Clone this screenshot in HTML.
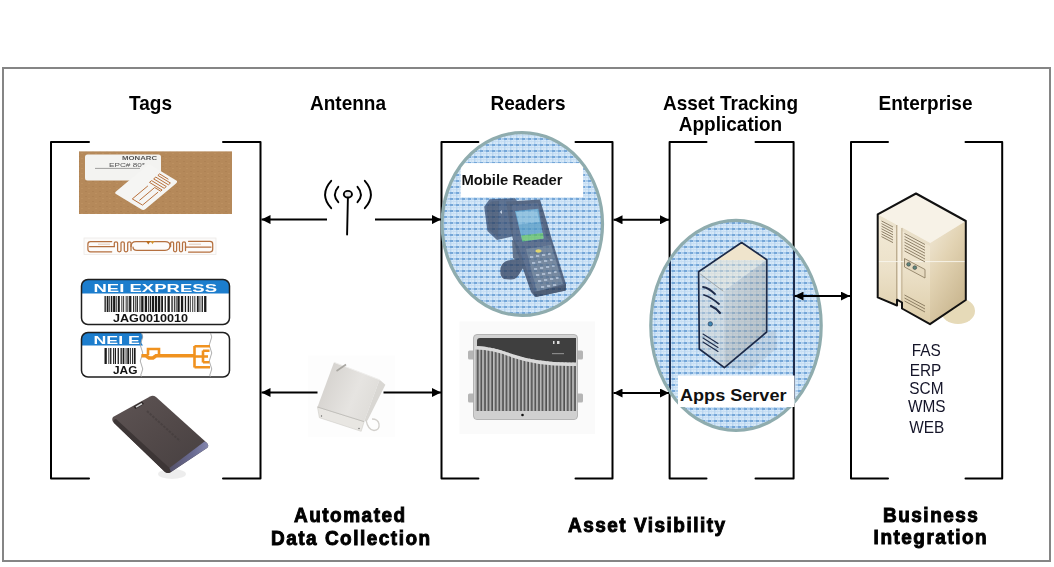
<!DOCTYPE html>
<html><head><meta charset="utf-8"><title>RFID Asset Tracking</title>
<style>
html,body{margin:0;padding:0;background:#fff;width:1054px;height:567px;overflow:hidden}
svg{display:block}
text{font-family:"Liberation Sans",sans-serif}
.h{font-weight:bold;font-size:19px;fill:#000}
.f{font-weight:bold;font-size:19px;fill:#000;letter-spacing:1.5px;stroke:#000;stroke-width:0.9px}
.l{font-size:15.4px;fill:#141428}
.br{fill:none;stroke:#000;stroke-width:2;stroke-linejoin:round;stroke-linecap:round}
.ar{stroke:#000;stroke-width:2}
</style></head>
<body>
<svg width="1054" height="567" viewBox="0 0 1054 567">
<defs>
  <pattern id="grid" width="6" height="6" patternUnits="userSpaceOnUse">
    <rect width="6" height="6" fill="#d8eaf9"/>
    <rect x="0" y="0.3" width="6" height="1.3" fill="#8fbbe6"/>
    <rect x="0.3" y="0" width="1" height="6" fill="#abcdee"/>
    <rect x="0" y="3.4" width="6" height="0.7" fill="#bcd6f0"/>
    <rect x="3.4" y="0" width="0.6" height="6" fill="#c6ddf3"/>
    <rect x="0" y="0.3" width="3" height="1.4" fill="#5f97cf"/>
  </pattern>
  <pattern id="card" width="7" height="5" patternUnits="userSpaceOnUse">
    <rect width="7" height="5" fill="#b5895a"/>
    <rect x="1" y="1" width="2" height="1" fill="#a67b4e"/>
    <rect x="4" y="3" width="2" height="1" fill="#c29767"/>
  </pattern>
  <pattern id="fins" width="3.6" height="10" patternUnits="userSpaceOnUse" x="475">
    <rect width="3.6" height="10" fill="#505050"/>
    <rect x="0" width="1.7" height="10" fill="#bdbdbd"/>
    <rect x="1.7" width="0.5" height="10" fill="#808080"/>
  </pattern>
  <linearGradient id="srvR" x1="0" y1="0" x2="1" y2="1">
    <stop offset="0" stop-color="#d4d2ca"/><stop offset="0.4" stop-color="#b3b1aa"/><stop offset="1" stop-color="#8f8e88"/>
  </linearGradient>
  <linearGradient id="srvL" x1="0" y1="0" x2="0" y2="1">
    <stop offset="0" stop-color="#dfdfda"/><stop offset="1" stop-color="#c9c9c3"/>
  </linearGradient>
  <linearGradient id="entL" x1="0" y1="0" x2="0" y2="1">
    <stop offset="0" stop-color="#f3ebd9"/><stop offset="0.5" stop-color="#ece1c9"/><stop offset="1" stop-color="#ddcda9"/>
  </linearGradient>
  <linearGradient id="entR" x1="0" y1="0" x2="0.6" y2="1">
    <stop offset="0" stop-color="#f1e9d8"/><stop offset="0.45" stop-color="#e2d3b3"/><stop offset="1" stop-color="#c9b68f"/>
  </linearGradient>
  <linearGradient id="antF" x1="0" y1="0.3" x2="1" y2="0.7">
    <stop offset="0" stop-color="#d3d0cc"/><stop offset="0.6" stop-color="#e6e4e1"/><stop offset="1" stop-color="#dddbd7"/>
  </linearGradient>
  <linearGradient id="fobG" x1="0" y1="0" x2="1" y2="1">
    <stop offset="0" stop-color="#5e5454"/><stop offset="0.5" stop-color="#524949"/><stop offset="1" stop-color="#463f40"/>
  </linearGradient>
  <linearGradient id="fobB" x1="0" y1="0" x2="1" y2="0">
    <stop offset="0" stop-color="#55526a"/><stop offset="0.6" stop-color="#6a6b92"/><stop offset="1" stop-color="#8486ad"/>
  </linearGradient>
  <marker id="ah" viewBox="0 0 10 10" refX="10" refY="5" markerWidth="9" markerHeight="9" markerUnits="userSpaceOnUse" orient="auto-start-reverse">
    <path d="M0,0 L10,5 L0,10 z" fill="#000"/>
  </marker>
</defs>

<!-- outer frame -->
<rect x="3" y="68" width="1047" height="493" fill="none" stroke="#858585" stroke-width="2"/>

<!-- headers -->
<text class="h" transform="translate(150.5,109.5) scale(1,1.09)" text-anchor="middle">Tags</text>
<text class="h" transform="translate(348,109.5) scale(1,1.09)" text-anchor="middle">Antenna</text>
<text class="h" transform="translate(528,109.5) scale(1,1.09)" text-anchor="middle">Readers</text>
<text class="h" transform="translate(730.5,109.8) scale(1,1.09)" text-anchor="middle">Asset Tracking</text>
<text class="h" transform="translate(730.5,131.4) scale(1,1.09)" text-anchor="middle">Application</text>
<text class="h" transform="translate(925.5,109.5) scale(1,1.09)" text-anchor="middle">Enterprise</text>

<!-- brackets -->
<path class="br" d="M89,142 H51 V478.5 H89 M223,142 H260.5 V478.5 H223"/>
<path class="br" d="M478.4,142 H441.5 V478.5 H478.4 M575.5,142 H612.5 V478.5 H575.5"/>
<path class="br" d="M706.5,142 H669.6 V478.5 H706.5 M755.5,142 H793.6 V478.5 H755.5"/>
<path class="br" d="M888,142 H851 V478.5 H888 M965.5,142 H1002.2 V478.5 H965.5"/>

<!-- ===== TAGS ===== -->
<!-- tag 1: cardboard with labels -->
<g>
  <rect x="79" y="151.5" width="153" height="62.5" fill="#b5895a"/>
  <rect x="79" y="151.5" width="153" height="62.5" fill="url(#card)" opacity="0.5"/>
  <rect x="85" y="154.5" width="76" height="26" rx="2.5" fill="#f3f3f1"/>
  <text x="122" y="159.6" font-size="5.5" font-weight="bold" fill="#555" textLength="35" lengthAdjust="spacingAndGlyphs">MONARC</text>
  <text x="109" y="167.3" font-size="5.5" fill="#555" textLength="36" lengthAdjust="spacingAndGlyphs">EPC#  80*</text>
  <line x1="95" y1="168.4" x2="140" y2="168.4" stroke="#888" stroke-width="0.8"/>
  <path d="M116.3,191.2 Q114.2,192.9 116.0,194.0 L141.6,209.6 Q143.4,210.7 145.5,209.0 L176.0,183.4 Q178.1,181.7 176.3,180.6 L150.7,165.0 Q148.9,163.9 146.8,165.6 z" fill="#f5f5f3"/>
  <g fill="none" stroke="#b9713c" stroke-width="1" stroke-linejoin="round">
    <path d="M147.9,185.9 L132.3,198.9 L142.5,205.1 L158.1,192.1"/>
    <path d="M139.5,200.3 L154.7,187.5"/>
    <path d="M154.7,187.5 L160.7,191.2 L162.1,190.0 L149.5,182.4 L151.6,180.6 L164.2,188.3 L166.3,186.5 L153.7,178.9 L155.8,177.1 L168.4,184.8 L170.4,183.0 L157.9,175.4 L159.6,173.9 L168.4,179.3"/>
  </g>
</g>
<!-- tag 2: inlay strip -->
<g>
  <rect x="84" y="238" width="132" height="16.5" fill="#fcfbfa"/>
  <rect x="84" y="238" width="132" height="16.5" fill="none" stroke="#ece9e6" stroke-width="0.8"/>
  <g fill="none" stroke="#b5703f" stroke-width="1.25" stroke-linejoin="round" stroke-linecap="round">
    <path d="M111.7,241.5 H90.5 Q87.9,241.5 87.9,244 V249.3 Q87.9,251.8 90.5,251.8 H111.7"/>
    <path d="M89.5,246.6 H114.3"/>
    <path d="M114.3,246.6 L114.3,243.0 Q114.3,241.8 116.0,241.8 Q117.6,241.8 117.6,243.0 L117.6,250.6 Q117.6,251.8 119.3,251.8 Q121.0,251.8 121.0,250.6 L121.0,243.0 Q121.0,241.8 122.7,241.8 Q124.3,241.8 124.3,243.0 L124.3,250.6 Q124.3,251.8 126.0,251.8 Q127.7,251.8 127.7,250.6 L127.7,243.0 Q127.7,241.8 129.3,241.8 Q131.0,241.8 131.0,243.0 L131.0,250.6"/>
    <path d="M131,246.6 Q131,241.5 136,241.5 H165 Q170,241.5 170,245.5 Q170,250.3 165,250.3 H137 Q133,250.3 133,247"/>
    <path d="M170.6,246.6 L170.6,243.0 Q170.6,241.8 172.1,241.8 Q173.6,241.8 173.6,243.0 L173.6,250.6 Q173.6,251.8 175.1,251.8 Q176.6,251.8 176.6,250.6 L176.6,243.0 Q176.6,241.8 178.1,241.8 Q179.5,241.8 179.5,243.0 L179.5,250.6 Q179.5,251.8 181.0,251.8 Q182.5,251.8 182.5,250.6 L182.5,243.0 Q182.5,241.8 184.0,241.8 Q185.5,241.8 185.5,243.0 L185.5,250.6"/>
    <path d="M188.5,241.3 H210 Q212.7,241.3 212.7,244 V249.3 Q212.7,252 210,252 H188.5"/>
    <path d="M185.5,247 H211"/>
  </g>
  <path d="M146,241 L150.5,241 L148.3,244.6 z" fill="#b86a1a"/><path d="M150.5,241 L154.5,241 L152.5,244.2 z" fill="#d0922e"/>
  <line x1="98" y1="244.2" x2="110" y2="244.2" stroke="#cfa98c" stroke-width="0.6"/>
  <line x1="189" y1="244.2" x2="201" y2="244.2" stroke="#cfa98c" stroke-width="0.6"/>
</g>
<!-- tag 3: NEI EXPRESS -->
<g>
  <clipPath id="c3"><rect x="81.5" y="279.5" width="148" height="45" rx="6.5"/></clipPath>
  <rect x="81.5" y="279.5" width="148" height="45" rx="6.5" fill="#fff"/>
  <rect x="81.5" y="279.5" width="148" height="14" fill="#1c7dcd" clip-path="url(#c3)"/>
  <rect x="81.5" y="279.5" width="148" height="45" rx="6.5" fill="none" stroke="#1e1e1e" stroke-width="1.5"/>
  <text x="93.5" y="291.5" font-size="10" font-weight="bold" fill="#fff" textLength="123.5" lengthAdjust="spacingAndGlyphs">NEI EXPRESS</text>
  <g fill="#1a1a1a"><rect x="104.5" y="296" width="1.3" height="16"/><rect x="106.7" y="296" width="1.8" height="16"/><rect x="109.3" y="296" width="0.9" height="16"/><rect x="111.0" y="296" width="1.3" height="16"/><rect x="113.1" y="296" width="2.3" height="16"/><rect x="116.3" y="296" width="0.9" height="16"/><rect x="118.0" y="296" width="1.8" height="16"/><rect x="121.4" y="296" width="0.9" height="16"/><rect x="123.2" y="296" width="0.9" height="16"/><rect x="125.7" y="296" width="0.9" height="16"/><rect x="127.4" y="296" width="0.9" height="16"/><rect x="129.1" y="296" width="2.3" height="16"/><rect x="133.0" y="296" width="0.9" height="16"/><rect x="134.8" y="296" width="0.9" height="16"/><rect x="136.6" y="296" width="1.3" height="16"/><rect x="139.5" y="296" width="0.9" height="16"/><rect x="141.2" y="296" width="2.3" height="16"/><rect x="144.7" y="296" width="2.3" height="16"/><rect x="147.9" y="296" width="0.9" height="16"/><rect x="149.7" y="296" width="1.3" height="16"/><rect x="151.8" y="296" width="2.3" height="16"/><rect x="154.9" y="296" width="2.3" height="16"/><rect x="158.0" y="296" width="2.3" height="16"/><rect x="161.2" y="296" width="1.8" height="16"/><rect x="164.6" y="296" width="1.3" height="16"/><rect x="167.5" y="296" width="2.3" height="16"/><rect x="171.4" y="296" width="1.3" height="16"/><rect x="173.9" y="296" width="0.9" height="16"/><rect x="175.7" y="296" width="0.9" height="16"/><rect x="177.4" y="296" width="2.3" height="16"/><rect x="180.9" y="296" width="2.3" height="16"/><rect x="184.8" y="296" width="1.3" height="16"/><rect x="187.7" y="296" width="1.3" height="16"/><rect x="189.8" y="296" width="0.9" height="16"/><rect x="192.3" y="296" width="0.9" height="16"/><rect x="194.4" y="296" width="0.9" height="16"/><rect x="196.9" y="296" width="1.8" height="16"/><rect x="199.5" y="296" width="0.9" height="16"/><rect x="201.6" y="296" width="1.3" height="16"/><rect x="204.1" y="296" width="2.3" height="16"/></g>
  <text x="113" y="321.8" font-size="11" font-weight="bold" fill="#111" textLength="75" lengthAdjust="spacingAndGlyphs">JAG0010010</text>
</g>
<!-- tag 4: NEI E -->
<g>
  <clipPath id="c4"><rect x="81.5" y="332.5" width="148" height="44.5" rx="6.5"/></clipPath>
  <rect x="81.5" y="332.5" width="148" height="44.5" rx="6.5" fill="#fff"/>
  <path d="M81.5,332.5 H141 Q144,336 142,339 Q140,342 143,345.5 H81.5 z" fill="#1c7dcd" clip-path="url(#c4)"/>
  <rect x="81.5" y="332.5" width="148" height="44.5" rx="6.5" fill="none" stroke="#1e1e1e" stroke-width="1.5"/>
  <text x="93.5" y="344" font-size="10" font-weight="bold" fill="#fff" textLength="46.5" lengthAdjust="spacingAndGlyphs">NEI E</text>
  <g fill="#1a1a1a"><rect x="104.5" y="348" width="2.3" height="16"/><rect x="108.4" y="348" width="0.9" height="16"/><rect x="110.1" y="348" width="1.3" height="16"/><rect x="113.0" y="348" width="0.9" height="16"/><rect x="114.7" y="348" width="1.3" height="16"/><rect x="117.6" y="348" width="1.3" height="16"/><rect x="120.5" y="348" width="1.3" height="16"/><rect x="122.6" y="348" width="1.8" height="16"/><rect x="125.6" y="348" width="0.9" height="16"/><rect x="127.3" y="348" width="1.8" height="16"/><rect x="129.9" y="348" width="0.9" height="16"/><rect x="132.0" y="348" width="0.9" height="16"/><rect x="133.8" y="348" width="1.8" height="16"/></g>
  <text x="113" y="373.5" font-size="11" font-weight="bold" fill="#111" textLength="24.5" lengthAdjust="spacingAndGlyphs">JAG</text>
  <path d="M141.5,333 Q144,337 141.5,341 Q139,345 141.5,349 Q144,353 141.5,357 Q139,361 141.5,365 Q144,369 141.5,373 Q140,375 141.5,377" fill="none" stroke="#999" stroke-width="0.8"/>
  <path d="M210.5,333 Q213,337 210.5,341 Q208,345 210.5,349 Q213,353 210.5,357 Q208,361 210.5,365 Q213,369 210.5,373 Q209,375 210.5,377" fill="none" stroke="#999" stroke-width="0.8"/>
  <g fill="none" stroke="#f0921f" stroke-width="2.6" stroke-linejoin="miter">
    <path d="M141.5,355.8 H146 L149,358 H153 L156,355.8 H194" stroke-width="3.6"/>
    <path d="M148,355 V349 H159 V355"/>
    <path d="M194.5,346 V367.5 M194.5,346.3 H210 M194.5,367.2 H210 M194.5,356.5 H203 M203,350.5 V362.5 M203,350.8 H209.5 M203,362.2 H209.5 M203,356.5 H208"/>
  </g>
</g>
<!-- tag 5: black fob -->
<g>
  <ellipse cx="172" cy="474" rx="14" ry="5" fill="#000" opacity="0.07"/>
  <path d="M113,417 L150,396.5 Q153,395 156,397 L207,443 Q209.5,446 207,448 L171,472 Q168,474 165,472 L114,423 Q111,420 113,417 z" fill="url(#fobG)"/>
  <path d="M114,423 L165,472 Q168,474 171,472 L169.5,468 L116,419 Q112.5,419.5 114,423 z" fill="#3d3636"/>
  <path d="M169.5,468 L171,472 L207,448 Q209.5,446 207,443 L204.5,441.5 z" fill="url(#fobB)"/>
  <path d="M133.5,406.5 L142,401.5 L144,404 L135.5,409 z" fill="#2e2828"/>
  <path d="M135.5,406.5 L141.5,403 L142.5,404.2 L136.5,407.7 z" fill="#d9d9d9"/>
  <path d="M147,411 L180,441" stroke="#3f3838" stroke-width="2" opacity="0.5" stroke-dasharray="2.5 1.2"/>
</g>

<!-- ===== ANTENNA ===== -->
<g fill="none" stroke="#000" stroke-width="1.9" stroke-linecap="round">
  <ellipse cx="347.9" cy="194.2" rx="4.1" ry="3.3" fill="#e6e6e6"/>
  <path d="M347.9,197.6 L347.1,234.5"/>
  <path d="M338.3,186.8 Q331.5,194.5 338.3,202.2"/>
  <path d="M357.5,186.8 Q364.3,194.5 357.5,202.2"/>
  <path d="M331.2,180.8 Q319,194.5 331.2,208.2"/>
  <path d="M364.8,180.8 Q377,194.5 364.8,208.2"/>
</g>
<!-- antenna panel -->
<g>
  <rect x="308" y="355.5" width="87" height="81.5" fill="#f8f8f8" opacity="0.35"/>
  <path d="M317.5,407 L364.1,421.6 L361.2,431.3 L319.4,417.7 z" fill="#e8e6e2" stroke="#cfcdc8" stroke-width="0.6"/>
  <path d="M334,362.3 L379.6,379.8 L364.1,421.6 L317.5,407 z" fill="url(#antF)"/>
  <path d="M379.6,379.8 L385.4,384.7 L367.5,420.5 L364.1,421.6 z" fill="#d9d7d3"/>
  <path d="M334,362.3 L379.6,379.8" stroke="#efeeec" stroke-width="1"/>
  <path d="M317.5,407 L364.1,421.6" stroke="#b9b7b2" stroke-width="0.8"/>
  <path d="M336.5,371 L346,364.5" stroke="#a9a7a2" stroke-width="1.6"/>
  <path d="M366,420 Q368,430 374,430.5 Q380,430 379,424 Q378,419 372,419" fill="none" stroke="#d2d0cc" stroke-width="1.3"/>
  <circle cx="321.5" cy="416" r="0.7" fill="#666"/><circle cx="359" cy="428.5" r="0.7" fill="#666"/>
</g>

<!-- ===== READERS ===== -->
<g>
  <clipPath id="e1"><ellipse cx="522.3" cy="224" rx="80.2" ry="91.4"/></clipPath>
  <ellipse cx="522.3" cy="224" rx="80.2" ry="91.4" fill="url(#grid)"/>
  <rect x="460.8" y="163.2" width="122.3" height="34" fill="#fff"/>
  <!-- mobile reader device -->
  <g>
    <!-- handle -->
    <path d="M512,240 L526,248 L527,260 L520,262 L513,258 z" fill="#3e4c66"/>
    <path d="M500.5,268 Q502,262 508,260.5 L521,258 Q526,259 525,265 L518,276 Q515,280 510,279.5 L504,279 Q499.5,277 500.5,268 z" fill="#2a3957"/>
    <!-- scanner head -->
    <path d="M484.2,206.7 L489.5,199.2 L515,198.2 L517,201 L514,236 L497,240 L487.4,231 z" fill="#34486b"/>
    <path d="M486.5,207 L491,201.5 L499,201 L498,237.5 L489,230 z" fill="#2a3a58"/>
    <path d="M500,212 L501.5,210 L502,214 z" fill="#e8eef5"/>
    <!-- body -->
    <path d="M506,201.5 L540,199.5 L548,226 L552,240 L566,284 L565.7,290.5 L535,297 L531,292 L513,240 L510,226 z" fill="#2d3c5a"/>
    <path d="M512,205 L538,203 L546,237 L551,242 L563,283 L535,292 L518,246 L513,238 z" fill="#36486a"/>
    <!-- screen -->
    <path d="M515,210.9 L538.3,208.8 L543.6,238.4 L522.4,241.6 z" fill="#4f97c2"/>
    <path d="M516,212 L537,210 L539.5,222 L519,224.5 z" fill="#7fb8d8"/>
    <path d="M521.2,235.5 L543,233 L543.6,238.4 L522.4,241.6 z" fill="#5cbf5a"/>
    <!-- keypad -->
    <path d="M526,249 L551,245 L563,284 L537,292 z" fill="#56677f"/>
    <g fill="#9eabc0">
      <rect x="530" y="256" width="3.2" height="2"/><rect x="536" y="255" width="3.2" height="2"/><rect x="542" y="254" width="3.2" height="2"/><rect x="548" y="253" width="2.6" height="2"/>
      <rect x="532" y="262" width="3.2" height="2"/><rect x="538" y="261" width="3.2" height="2"/><rect x="544" y="260" width="3.2" height="2"/><rect x="550" y="259" width="2.6" height="2"/>
      <rect x="534" y="268" width="3.2" height="2"/><rect x="540" y="267" width="3.2" height="2"/><rect x="546" y="266" width="3.2" height="2"/><rect x="552" y="265" width="2.6" height="2"/>
      <rect x="536" y="274" width="3.2" height="2"/><rect x="542" y="273" width="3.2" height="2"/><rect x="548" y="272" width="3.2" height="2"/><rect x="554" y="271" width="2.6" height="2"/>
      <rect x="538" y="280" width="3.2" height="2"/><rect x="544" y="279" width="3.2" height="2"/><rect x="550" y="278" width="3.2" height="2"/><rect x="556" y="277" width="2.6" height="2"/>
      <rect x="541" y="286" width="3.2" height="2"/><rect x="547" y="285" width="3.2" height="2"/><rect x="553" y="284" width="3.2" height="2"/>
    </g>
    <ellipse cx="538.5" cy="251" rx="3" ry="1.7" fill="#e6cf3c"/>
    <path d="M533,292 L536,297 L565.7,290.5 L566,284 L562,286 z" fill="#1f2c45"/>
  </g>
  <ellipse cx="522.3" cy="224" rx="80.2" ry="91.4" fill="url(#grid)" opacity="0.28" clip-path="url(#e1)"/>
  <rect x="460.8" y="163.2" width="122.3" height="34" fill="#fff"/>
  <ellipse cx="522.3" cy="224" rx="80.2" ry="91.4" fill="none" stroke="#8facae" stroke-width="3.2"/>
  <text x="461.5" y="185" font-size="14.5" font-weight="bold" fill="#111" textLength="101" lengthAdjust="spacingAndGlyphs">Mobile Reader</text>
</g>
<!-- fixed reader -->
<g>
  <rect x="459.5" y="321.5" width="135.5" height="112.5" fill="#f6f6f6" opacity="0.6"/>
  <rect x="468" y="350.5" width="7" height="9" rx="1.5" fill="#b5b5b5"/><rect x="468" y="393.5" width="7" height="9" rx="1.5" fill="#b5b5b5"/>
  <rect x="576" y="350.5" width="7" height="9" rx="1.5" fill="#b5b5b5"/><rect x="576" y="393.5" width="7" height="9" rx="1.5" fill="#b5b5b5"/>
  <rect x="473.5" y="334.5" width="104" height="85" rx="3.5" fill="#d2d2d2" stroke="#a8a8a8" stroke-width="0.8"/>
  <rect x="475" y="347" width="101" height="64" fill="#8f8f8f"/>
  <rect x="475" y="347" width="101" height="64" fill="url(#fins)"/>
  <path d="M480,338 H576 V362.5 Q540,363.5 512,354 Q495,347 477,346 V341 Q477,338 480,338 z" fill="#3f3f3f"/>
  <path d="M475,346 Q495,347 512,354 Q540,363.5 576,362.5 V366 Q540,367 512,357.5 Q495,350 475,349.5 z" fill="#dadada"/>
  <rect x="475" y="411" width="101" height="7.5" fill="#d0d0d0"/>
  <circle cx="522.5" cy="415" r="1.3" fill="#111"/>
  <rect x="553" y="341" width="1.5" height="3" fill="#ddd"/><rect x="557" y="341" width="2.5" height="3" fill="#ddd"/>
  <rect x="552" y="353" width="12" height="1.2" fill="#888"/>
</g>

<!-- ===== APPS SERVER ===== -->
<g>
  <clipPath id="e2"><ellipse cx="736" cy="325.4" rx="85.2" ry="105"/></clipPath>
  <ellipse cx="736" cy="325.4" rx="85.2" ry="105" fill="url(#grid)"/>
  <!-- shadow -->
  <path d="M724.4,367.6 L766.7,332 L776,330 L777,348 L750,371 z" fill="#8f979e" opacity="0.45"/>
  <!-- server tower -->
  <path d="M741.6,242.5 L766.8,259.7 L724,291 L698.6,271.7 z" fill="#efe4cc"/>
  <path d="M698.6,271.7 L724,291 L724.4,367.6 L699.3,349 z" fill="url(#srvL)"/>
  <path d="M724,291 L766.8,259.7 L766.7,332 L724.4,367.6 z" fill="url(#srvR)"/>
  <g clip-path="url(#e2)">
    <rect x="640" y="260" width="200" height="180" fill="url(#grid)" opacity="0.55" style="mix-blend-mode:multiply"/>
  </g>
  <path d="M741.6,242.5 L766.8,259.7 L766.7,332 L724.4,367.6 L699.3,349 L698.6,271.7 z" stroke="#1c2a48" stroke-width="1.7" fill="none" stroke-linejoin="round"/>
  <g stroke="#1f2c4a" fill="none" stroke-linecap="round">
    <path d="M703,287 Q709,288 715,294" stroke-width="1.8"/>
    <path d="M704,295 Q711,297 719,304" stroke-width="1.8"/>
    <path d="M711,306 Q716,308 720,313" stroke-width="2.2"/>
    <path d="M703,334 L718,343.5 M703,338 L718,347.5 M703,342 L718,351.5" stroke-width="1.1"/>
  </g>
  <circle cx="710.3" cy="323.9" r="2.2" fill="#3f86b3" stroke="#22304d" stroke-width="0.6"/>
  <path d="M700.3,274 L723.3,291.2" stroke="#8f8f8a" stroke-width="0.7"/>
  <!-- bracket lines seen through ellipse -->
  <g clip-path="url(#e2)" stroke="#1d2c4c" stroke-width="2">
    <line x1="670" y1="200" x2="670" y2="440"/>
    <line x1="794" y1="200" x2="794" y2="440"/>
  </g>
  <ellipse cx="736" cy="325.4" rx="85.2" ry="105" fill="none" stroke="#8facae" stroke-width="3.2"/>
  <rect x="678" y="375.5" width="116.5" height="31.5" fill="#fff"/>
  <text x="680" y="400.8" font-size="17" font-weight="bold" fill="#111" textLength="106.5" lengthAdjust="spacingAndGlyphs">Apps Server</text>
</g>

<!-- ===== ENTERPRISE SERVER ===== -->
<g>
  <ellipse cx="958" cy="311" rx="17" ry="13" fill="#e6dab8"/>
  <!-- top face -->
  <path d="M916,193.5 L965.8,221 L930,243 L877.7,214.4 z" fill="#f7f2e7"/>
  <!-- left/front face -->
  <path d="M877.7,214.4 L930,243 L930,324.2 L902,308.5 L902,302.5 L897,299.7 L897,305.5 L877.7,297.4 z" fill="url(#entL)"/>
  <!-- right face -->
  <path d="M930,243 L965.8,221 L965.8,300 L930,324.2 z" fill="url(#entR)"/>
  <!-- cabinet tops -->
  <path d="M877.7,214.4 L896,224.5 L897,226 L897,229 L878,218.5 z" fill="#ebe2cd"/>
  <path d="M902,227.5 L930,243 L930,246 L902,231 z" fill="#e9dfc8"/>
  <!-- groove -->
  <path d="M896.8,225 L896.8,305" stroke="#a8977a" stroke-width="1" fill="none"/>
  <path d="M899.3,226 L899.3,306" stroke="#f7f0e2" stroke-width="3" fill="none"/>
  <path d="M901.9,228 L901.9,308" stroke="#b3a283" stroke-width="0.8" fill="none"/>
  <!-- reflection -->
  <path d="M877.7,261.6 L965.8,261.6" stroke="#faf6ee" stroke-width="1" fill="none" opacity="0.9"/>
  <g stroke="#75664c" stroke-width="0.8" fill="none">
    <path d="M881.5,221 L893,227 M881.5,223.6 L893,229.6 M881.5,226.2 L893,232.2 M881.5,228.8 L893,234.8 M881.5,231.4 L893,237.4 M881.5,234 L893,240 M881.5,236.6 L893,242.6"/>
    <path d="M904.5,233.5 L925,244.5 M904.5,236.4 L925,247.4 M904.5,239.3 L925,250.3 M904.5,242.2 L925,253.2 M904.5,245.1 L925,256.1 M904.5,248 L925,259 M904.5,250.9 L925,261.9"/>
    <path d="M904.5,295 L925,306 M904.5,298 L925,309 M904.5,301 L925,312"/>
  </g>
  <path d="M904.5,258.5 L925,269.5 L925,278 L904.5,267 z" fill="#e6dac0" stroke="#85765a" stroke-width="0.8"/>
  <circle cx="908.6" cy="264.3" r="1.9" fill="#5f857c" stroke="#333" stroke-width="0.5"/>
  <circle cx="914.8" cy="267.6" r="1.9" fill="#5f857c" stroke="#333" stroke-width="0.5"/>
  <!-- outline -->
  <path d="M916,193.5 L965.8,221 L965.8,300 L930,324.2 L902,308.5 L902,302.5 L897,299.7 L897,305.5 L877.7,297.4 L877.7,214.4 z" fill="none" stroke="#111" stroke-width="2" stroke-linejoin="round"/>
</g>

<!-- arrows -->
<line class="ar" x1="327" y1="219.6" x2="261.5" y2="219.6" marker-end="url(#ah)"/>
<line class="ar" x1="375" y1="219.6" x2="441" y2="219.6" marker-end="url(#ah)"/>
<line class="ar" x1="317.5" y1="392.5" x2="261.5" y2="392.5" marker-end="url(#ah)"/>
<line class="ar" x1="383.5" y1="392.5" x2="441" y2="392.5" marker-end="url(#ah)"/>
<line class="ar" x1="613.5" y1="219.8" x2="669" y2="219.8" marker-start="url(#ah)" marker-end="url(#ah)"/>
<line class="ar" x1="613.5" y1="393" x2="669" y2="393" marker-start="url(#ah)" marker-end="url(#ah)"/>
<line class="ar" x1="794.5" y1="296.1" x2="850" y2="296.1" marker-start="url(#ah)" marker-end="url(#ah)"/>

<!-- enterprise list -->
<text class="l" transform="translate(926.3,355.5) scale(1,1.05)" text-anchor="middle">FAS</text>
<text class="l" transform="translate(925.5,375.5) scale(1,1.05)" text-anchor="middle">ERP</text>
<text class="l" transform="translate(926.4,394.4) scale(1,1.05)" text-anchor="middle">SCM</text>
<text class="l" transform="translate(926.7,412.4) scale(1,1.05)" text-anchor="middle">WMS</text>
<text class="l" transform="translate(926.7,432.5) scale(1,1.05)" text-anchor="middle">WEB</text>

<!-- footer labels -->
<text class="f" transform="translate(350.3,522.2) scale(1,1.07)" text-anchor="middle">Automated</text>
<text class="f" transform="translate(351.3,544.7) scale(1,1.07)" text-anchor="middle">Data Collection</text>
<text class="f" transform="translate(647.3,531.5) scale(1,1.07)" text-anchor="middle">Asset Visibility</text>
<text class="f" transform="translate(931.2,521.9) scale(1,1.07)" text-anchor="middle">Business</text>
<text class="f" transform="translate(930.9,544.1) scale(1,1.07)" text-anchor="middle">Integration</text>

</svg>
</body></html>
